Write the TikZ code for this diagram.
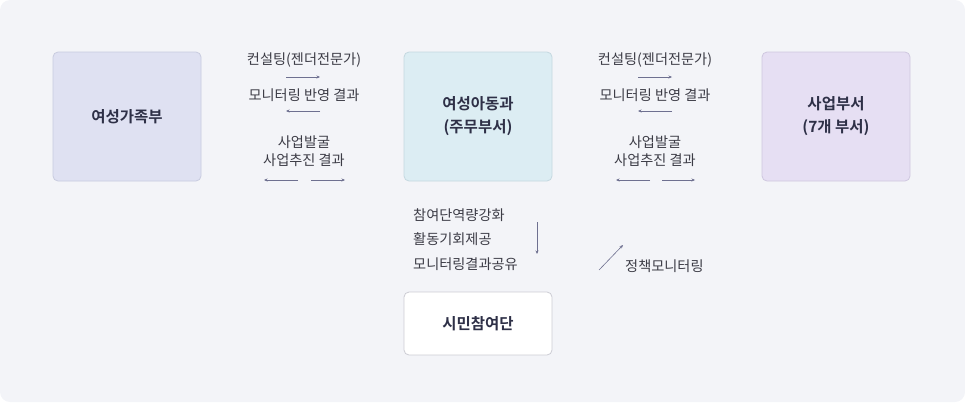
\documentclass[tikz,border=0pt]{standalone}
\usepackage{fontspec}
\setmainfont{Noto Sans CJK KR}
\newfontfamily\krb{Noto Sans CJK KR Bold}
\usetikzlibrary{arrows.meta}
\definecolor{bg}{HTML}{F3F4F8}
\definecolor{boxA}{HTML}{DFE1F2}
\definecolor{boxAb}{HTML}{C8CBDF}
\definecolor{boxB}{HTML}{DCEDF3}
\definecolor{boxBb}{HTML}{C4D8E0}
\definecolor{boxC}{HTML}{E6DFF3}
\definecolor{boxCb}{HTML}{CFC7DF}
\definecolor{boxDb}{HTML}{CCCCD4}
\definecolor{tdark}{HTML}{2E3047}
\definecolor{tgray}{HTML}{3C3C46}
\definecolor{arr}{HTML}{6E7090}
\tikzset{
  unit/.style={rounded corners=5pt, minimum width=148pt, minimum height=129pt, align=center, font=\krb\fontsize{15.5}{23}\selectfont, text=tdark, line width=0.8pt},
  lbl/.style={font=\fontsize{14.2}{18}\selectfont, text=tgray, inner sep=0pt},
  flow/.style={draw=arr, line width=0.6pt, -{Stealth[length=3.5pt,width=3pt]}},
}
\begin{document}
\begin{tikzpicture}[x=1pt,y=-1pt]
\fill[bg, rounded corners=10pt] (0,0) rectangle (965,402);
\useasboundingbox (0,0) rectangle (965,402);
% boxes
\node[unit, fill=boxA, draw=boxAb] (mogef) at (127,116.5) {여성가족부};
\node[unit, fill=boxB, draw=boxBb] (dept) at (478,116.5) {여성아동과\\(주무부서)};
\node[unit, fill=boxC, draw=boxCb] (biz) at (836,116.5) {사업부서\\(7개 부서)};
\node[unit, minimum height=63pt, fill=white, draw=boxDb] (citizen) at (478,323.5) {시민참여단};
% left gap labels
\node[lbl] (l1) at (304,60) {컨설팅(젠더전문가)};
\node[lbl] (l2) at (304,95) {모니터링 반영 결과};
\node[lbl] (l3) at (304,142) {사업발굴};
\node[lbl] (l4) at (304,160) {사업추진 결과};
\coordinate (la1) at (286,77); \coordinate (lb1) at (320,77);
\coordinate (la2) at (286,111); \coordinate (lb2) at (320,111);
\coordinate (la3) at (264,180); \coordinate (lb3) at (298,180);
\coordinate (la4) at (311,180); \coordinate (lb4) at (345,180);
\draw[flow] (la1) -- (lb1);
\draw[flow] (lb2) -- (la2);
\draw[flow] (lb3) -- (la3);
\draw[flow] (la4) -- (lb4);
% right gap labels
\node[lbl] (r1) at (655,60) {컨설팅(젠더전문가)};
\node[lbl] (r2) at (655,95) {모니터링 반영 결과};
\node[lbl] (r3) at (655,142) {사업발굴};
\node[lbl] (r4) at (655,160) {사업추진 결과};
\coordinate (ra1) at (638,77); \coordinate (rb1) at (672,77);
\coordinate (ra2) at (638,111); \coordinate (rb2) at (672,111);
\coordinate (ra3) at (616,180); \coordinate (rb3) at (650,180);
\coordinate (ra4) at (662,180); \coordinate (rb4) at (695,180);
\draw[flow] (ra1) -- (rb1);
\draw[flow] (rb2) -- (ra2);
\draw[flow] (rb3) -- (ra3);
\draw[flow] (ra4) -- (rb4);
% bottom labels
\node[lbl, anchor=west] (d1) at (413,215) {참여단역량강화};
\node[lbl, anchor=west] (d2) at (413,239.5) {활동기회제공};
\node[lbl, anchor=west] (d3) at (413,264) {모니터링결과공유};
\coordinate (da) at (537,222); \coordinate (db) at (537,254);
\draw[flow] (da) -- (db);
\coordinate (ea) at (599,270); \coordinate (eb) at (623,245);
\draw[flow] (ea) -- (eb);
\node[lbl, anchor=west] (e1) at (625,266) {정책모니터링};
\end{tikzpicture}
\end{document}
